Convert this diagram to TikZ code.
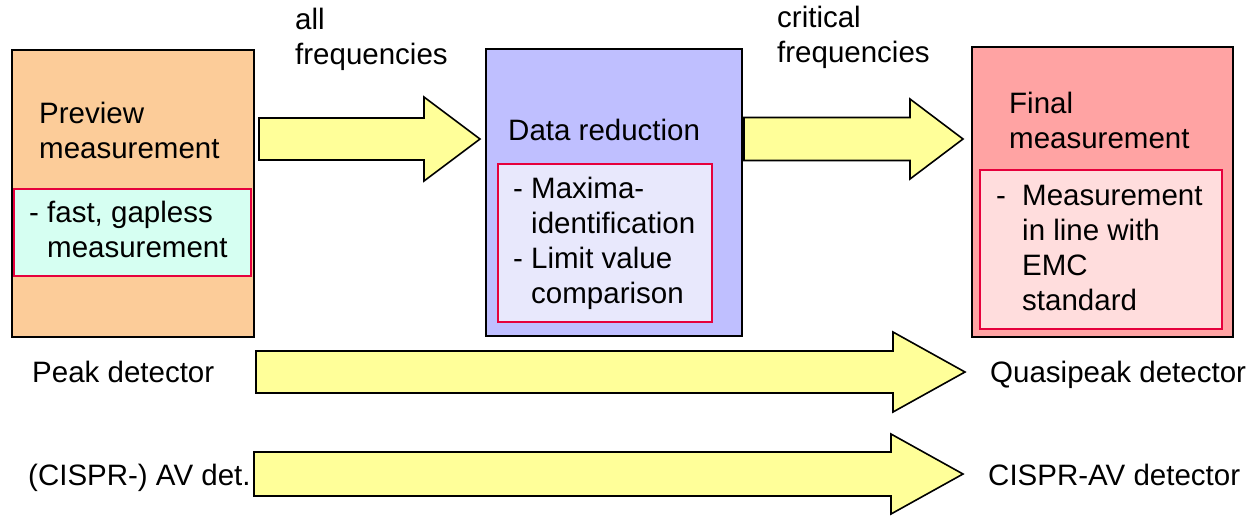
\documentclass[tikz,border=0pt]{standalone}
\usepackage{fontspec}
\setmainfont{Liberation Sans}
\definecolor{previewfill}{HTML}{FCCC99}
\definecolor{previewin}{HTML}{D6FFF2}
\definecolor{datafill}{HTML}{BFBFFF}
\definecolor{datain}{HTML}{E8E8FC}
\definecolor{finalfill}{HTML}{FFA3A3}
\definecolor{finalin}{HTML}{FFDDDD}
\definecolor{arrowfill}{HTML}{FFFF99}
\definecolor{innerline}{HTML}{E6003C}
\tikzset{
  stagebox/.style={draw=black, line width=1.6pt, anchor=north west, inner sep=0pt},
  notebox/.style={draw=innerline, line width=1.6pt, anchor=north west, inner sep=0pt},
  % multi-line texts are placed by the baseline of their last line
  txt/.style={font=\fontsize{29.5}{35}\selectfont, inner sep=0pt, anchor=base west, align=left},
  bigarrow/.style={draw=black, fill=arrowfill, line width=1.6pt, line join=miter},
}
% block arrow: start x, head-back x, tip x, centre y, half shaft, half head
\newcommand\blockarrow[6]{%
  \draw[bigarrow] ({#1},{#4-#5}) -- ({#2},{#4-#5}) -- ({#2},{#4-#6}) -- ({#3},{#4})
    -- ({#2},{#4+#6}) -- ({#2},{#4+#5}) -- ({#1},{#4+#5}) -- cycle;}
\begin{document}
\begin{tikzpicture}[x=1pt, y=-1pt]
  \useasboundingbox (0,0) rectangle (1250,515);

  % stage boxes
  \node[stagebox, fill=previewfill, minimum width=242pt, minimum height=287pt] (preview) at (11,49) {};
  \node[stagebox, fill=datafill, minimum width=256pt, minimum height=287pt] (data) at (485,48) {};
  \node[stagebox, fill=finalfill, minimum width=261pt, minimum height=290pt] (final) at (971,46) {};

  % detail boxes
  \node[notebox, fill=previewin, minimum width=237pt, minimum height=87pt] (previewnote) at (13,188) {};
  \node[notebox, fill=datain, minimum width=214pt, minimum height=158pt] (datanote) at (497,163) {};
  \node[notebox, fill=finalin, minimum width=242pt, minimum height=159pt] (finalnote) at (979,169) {};

  % block arrows
  \blockarrow{259}{424}{480}{139}{21}{42}
  \blockarrow{744}{910}{963}{139}{21.5}{40}
  \blockarrow{256}{893}{965}{372}{21}{40}
  \blockarrow{254}{891}{963}{474}{22}{40}

  % stage titles
  \node[txt] (previewtitle) at (39,158) {Preview\\measurement};
  \node[txt] (datatitle) at (508,140) {Data reduction};
  \node[txt] (finaltitle) at (1009,148) {Final\\measurement};

  % stage details
  \node[txt] (previewtext) at (29,257) {- fast, gapless\\\phantom{- }measurement};
  \node[txt] (datatext) at (513,303) {- Maxima-\\\phantom{- }identification\\- Limit value\\\phantom{- }comparison};
  \node[txt] (finaltext) at (996,310) {\makebox[26pt][l]{-}Measurement\\\hspace*{26pt}in line with\\\hspace*{26pt}EMC\\\hspace*{26pt}standard};

  % arrow labels
  \node[txt] (alllabel) at (295,64) {all\\frequencies};
  \node[txt] (critlabel) at (777,62) {critical\\frequencies};

  % detectors
  \node[txt] (peak) at (32,382) {Peak detector};
  \node[txt] (avdet) at (28,485) {(CISPR-) AV det.};
  \node[txt] (qpeak) at (990,382) {Quasipeak detector};
  \node[txt] (cisprav) at (988,485) {CISPR-AV detector};
\end{tikzpicture}
\end{document}
